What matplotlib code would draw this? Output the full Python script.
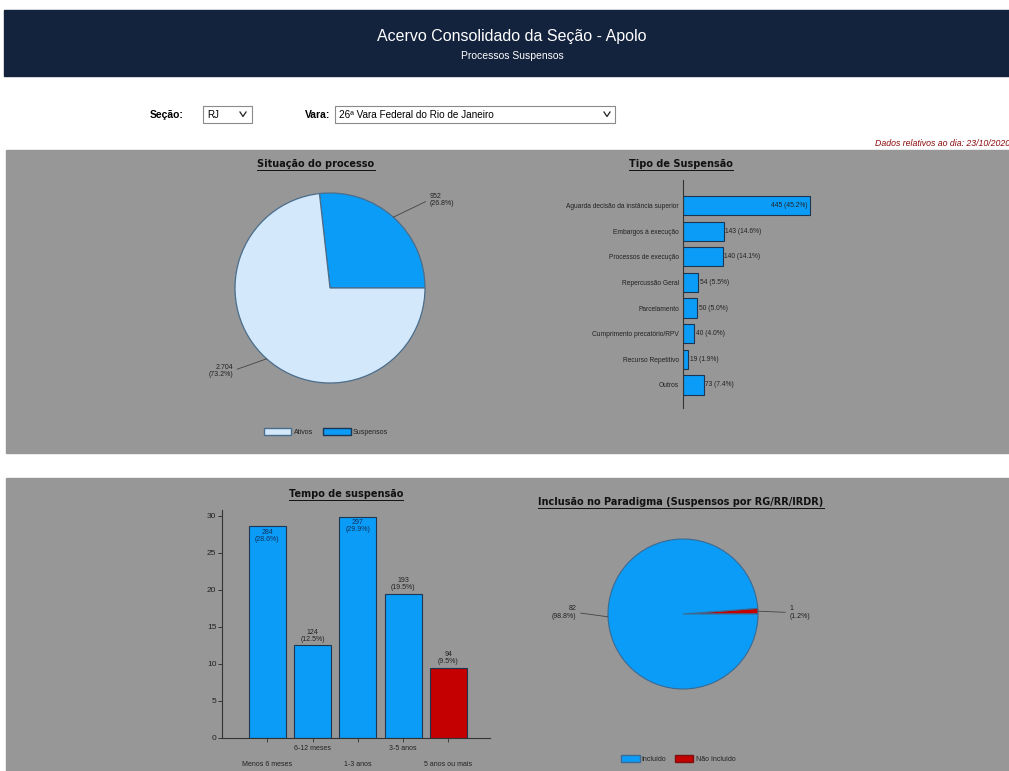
import numpy as np
import matplotlib
matplotlib.use("Agg")
import matplotlib.pyplot as plt
from matplotlib.patches import Rectangle, Patch
from matplotlib.lines import Line2D

plt.rcParams['font.family'] = ['Liberation Sans', 'DejaVu Sans']

# data
sit_labels = ['Suspensos', 'Ativos']
sit_values = [952, 2604]
sit_text = ['952\n(26.8%)', '2.704\n(73.2%)']

tipo_cats = ['Aguarda decisão da instância superior', 'Embargos à execução',
             'Processos de execução', 'Repercussão Geral', 'Parcelamento',
             'Cumprimento precatório/RPV', 'Recurso Repetitivo', 'Outros']
tipo_values = [445, 143, 140, 54, 50, 40, 19, 73]
tipo_text = ['445 (45.2%)', '143 (14.6%)', '140 (14.1%)', '54 (5.5%)',
             '50 (5.0%)', '40 (4.0%)', '19 (1.9%)', '73 (7.4%)']

tempo_cats = ['Menos 6 meses', '6-12 meses', '1-3 anos', '3-5 anos', '5 anos ou mais']
tempo_counts = [284, 124, 297, 193, 94]
tempo_pct = [28.6, 12.5, 29.9, 19.5, 9.5]

parad_labels = ['Não Incluído', 'Incluído']
parad_values = [1, 82]
parad_text = ['1\n(1.2%)', '82\n(98.8%)']

BLUE = '#0a9cf7'
LIGHT = '#d3e9fb'
RED = '#c40000'
EDGE = '#1c3552'
GRAY = '#979797'
NAVY = '#13223d'
TXT = '#222222'

W, H = 1009, 771
fig = plt.figure(figsize=(W / 100, H / 100), dpi=100, facecolor='white')


def fx(x):
    return x / W


def fy(y):
    return 1 - y / H


def add_ax(x0, y0, x1, y1):
    ax = fig.add_axes([x0 / W, 1 - y1 / H, (x1 - x0) / W, (y1 - y0) / H])
    ax.patch.set_alpha(0)
    return ax


def rect(x0, y0, x1, y1, **kw):
    r = Rectangle((fx(x0), fy(y1)), (x1 - x0) / W, (y1 - y0) / H,
                  transform=fig.transFigure, **kw)
    fig.add_artist(r)
    return r


def title(x, y, s):
    t = fig.text(fx(x), fy(y), s, ha='center', va='center', fontsize=7,
                 fontweight='bold', color='#111111', family='DejaVu Sans')
    fig.canvas.draw()
    bb = t.get_window_extent()
    fig.add_artist(Line2D([bb.x0 / W, bb.x1 / W], [(bb.y0 - 1) / H] * 2,
                          transform=fig.transFigure, color='#111111', lw=0.7))


# header and panels
rect(4, 10, W, 76, color=NAVY, zorder=-5)
fig.text(fx(512), fy(37), 'Acervo Consolidado da Seção - Apolo', ha='center',
         va='center', color='white', fontsize=11.5)
fig.text(fx(512), fy(56), 'Processos Suspensos', ha='center', va='center',
         color='white', fontsize=7.5)
rect(6, 150, W, 453, color=GRAY, zorder=-5)
rect(6, 478, W, H + 2, color=GRAY, zorder=-5)

# form controls
fig.text(fx(150), fy(115), 'Seção:', ha='left', va='center', fontsize=7.5, fontweight='bold')
fig.text(fx(305), fy(115), 'Vara:', ha='left', va='center', fontsize=7.5, fontweight='bold')
rect(203, 106, 252, 123, facecolor='white', edgecolor='#8a8a8a', lw=0.8)
rect(335, 106, 615, 123, facecolor='white', edgecolor='#8a8a8a', lw=0.8)
fig.text(fx(207), fy(114.5), 'RJ', ha='left', va='center', fontsize=7)
fig.text(fx(339), fy(114.5), '26ª Vara Federal do Rio de Janeiro', ha='left',
         va='center', fontsize=7.2)
for cx in (243, 607):
    fig.add_artist(Line2D([fx(cx - 3), fx(cx), fx(cx + 3)],
                          [fy(112), fy(116.5), fy(112)], transform=fig.transFigure,
                          color='#222222', lw=0.9))
fig.text(fx(875), fy(143), 'Dados relativos ao dia: 23/10/2020', ha='left',
         va='center', fontsize=6.3, style='italic', color='#8b0a0a')


def pie_labels(ax, wedges, texts, elbows, sides):
    for w, s, el, side in zip(wedges, texts, elbows, sides):
        ang = np.deg2rad((w.theta1 + w.theta2) / 2)
        xy = (np.cos(ang), np.sin(ang))
        ax.annotate(s, xy=xy, xytext=el, ha=side, va='center', fontsize=5,
                    color=TXT, linespacing=1.0, annotation_clip=False,
                    arrowprops=dict(arrowstyle='-', color='#444444', lw=0.6,
                                    shrinkA=1, shrinkB=0,
                                    relpos=(0, 0.5) if side == 'left' else (1, 0.5)))


# Situação do processo
title(316, 164, 'Situação do processo')
R1 = 95
ax1 = add_ax(330 - R1, 288 - R1, 330 + R1, 288 + R1)
w1, _ = ax1.pie(sit_values, colors=[BLUE, LIGHT], startangle=0, counterclock=True,
                wedgeprops=dict(edgecolor='#4a6d8c', linewidth=0.9))
ax1.set_xlim(-1, 1)
ax1.set_ylim(-1, 1)
pie_labels(ax1, w1, sit_text, [(1.05, 0.93), (-1.02, -0.87)], ['left', 'right'])
fig.legend([Patch(facecolor=LIGHT, edgecolor='#4a6d8c'), Patch(facecolor=BLUE, edgecolor=EDGE)],
           ['Ativos', 'Suspensos'], loc='center', bbox_to_anchor=(fx(326), fy(432)),
           ncol=2, frameon=False, fontsize=5, handlelength=4, handleheight=1.1,
           handletextpad=0.3, columnspacing=1.5, labelcolor=TXT)

# Tipo de Suspensão
title(681, 164, 'Tipo de Suspensão')
axb = add_ax(683, 180, 843, 408)
yb = np.arange(len(tipo_cats))
axb.barh(yb, tipo_values, height=0.75, color=BLUE, edgecolor=EDGE, linewidth=0.8)
axb.set_ylim(7.9, -1.0)
axb.set_xlim(0, 160 / 0.285)
for s in ('top', 'right', 'bottom'):
    axb.spines[s].set_visible(False)
axb.spines['left'].set_color('#333333')
axb.spines['left'].set_linewidth(0.8)
axb.set_xticks([])
axb.set_yticks(yb, tipo_cats, fontsize=4.8, color=TXT)
axb.tick_params(axis='y', length=0, pad=3)
for i, (v, s) in enumerate(zip(tipo_values, tipo_text)):
    if v > 300:
        axb.text(v - 8, i, s, ha='right', va='center', fontsize=4.8, color=TXT)
    else:
        axb.text(v + 5, i, s, ha='left', va='center', fontsize=4.8, color=TXT)

# Tempo de suspensão
title(346, 494, 'Tempo de suspensão')
axv = add_ax(222, 510, 490, 738)
xv = np.arange(len(tempo_cats))
axv.bar(xv, tempo_pct, width=0.82, color=[BLUE] * 4 + [RED], edgecolor=EDGE, linewidth=0.8)
axv.set_xlim(-1, 4.92)
axv.set_ylim(0, 30.8)
for s in ('top', 'right'):
    axv.spines[s].set_visible(False)
for s in ('left', 'bottom'):
    axv.spines[s].set_color('#333333')
    axv.spines[s].set_linewidth(0.8)
axv.set_yticks(np.arange(0, 31, 5))
axv.tick_params(axis='y', labelsize=6, length=3, width=0.6, pad=1, colors=TXT)
axv.set_xticks(xv, [''] * len(xv))
axv.tick_params(axis='x', length=3, width=0.6, colors='#333333')
for i, (c, n, p) in enumerate(zip(tempo_cats, tempo_counts, tempo_pct)):
    off = -10 if i % 2 else -27
    axv.annotate(c, xy=(i, 0), xycoords='data', xytext=(0, off), textcoords='offset pixels',
                 ha='center', va='center', fontsize=5, color=TXT, annotation_clip=False)
    lab = f'{n}\n({p:.1f}%)'
    if p > 25:
        axv.text(i, p - 0.3, lab, ha='center', va='top', fontsize=5, color='#12305a',
                 linespacing=1.0)
    else:
        axv.text(i, p + 0.4, lab, ha='center', va='bottom', fontsize=5, color=TXT,
                 linespacing=1.0)

# Inclusão no Paradigma
title(681, 502, 'Inclusão no Paradigma (Suspensos por RG/RR/IRDR)')
R2 = 75
ax2 = add_ax(683 - R2, 614 - R2, 683 + R2, 614 + R2)
w2, _ = ax2.pie(parad_values, colors=[RED, BLUE], startangle=0, counterclock=True,
                wedgeprops=dict(edgecolor='#3a6a94', linewidth=0.8))
ax2.set_xlim(-1, 1)
ax2.set_ylim(-1, 1)
pie_labels(ax2, w2, parad_text, [(1.42, 0.02), (-1.42, 0.02)], ['left', 'right'])
fig.legend([Patch(facecolor=BLUE, edgecolor='#3a6a94'), Patch(facecolor=RED, edgecolor='#7a1010')],
           ['Incluído', 'Não Incluído'], loc='center', bbox_to_anchor=(fx(678), fy(759)),
           ncol=2, frameon=False, fontsize=5, handlelength=2.7, handleheight=1.1,
           handletextpad=0.3, columnspacing=1.2, labelcolor=TXT)

fig.savefig('out.png', dpi=100, facecolor='white')
